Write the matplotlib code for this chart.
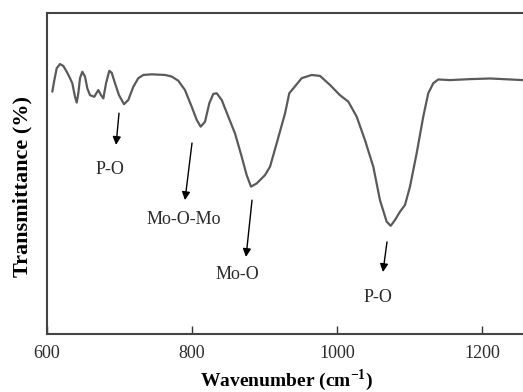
import matplotlib
matplotlib.use("Agg")
import matplotlib.pyplot as plt

plt.rcParams['font.family'] = ['Liberation Serif', 'DejaVu Serif']
plt.rcParams['mathtext.fontset'] = 'custom'
plt.rcParams['mathtext.rm'] = 'Liberation Serif'
plt.rcParams['mathtext.bf'] = 'Liberation Serif:bold'

# FT-IR spectrum
wavenumber = [607.3, 610.1, 613.4, 617.9, 622.5, 627.2, 631.7, 634.9, 638.6, 641.0,
              643.2, 645.5, 648.7, 652.4, 655.6, 659.3, 665.2, 668.6, 670.8, 674.5,
              677.7, 681.4, 685.9, 689.2, 693.8, 699.3, 706.2, 712.1, 719.0, 725.9,
              732.8, 744.4, 762.8, 772.0, 781.1, 790.3, 799.6, 806.5, 812.0, 817.9,
              823.9, 829.4, 834.1, 841.0, 850.1, 859.3, 868.6, 875.4, 881.4, 889.2,
              900.7, 907.6, 916.8, 928.3, 934.2, 939.7, 951.3, 965.1, 976.6, 990.3,
              1004.1, 1015.6, 1027.2, 1038.6, 1050.1, 1059.3, 1068.5, 1074.1, 1080.0,
              1086.9, 1093.8, 1100.7, 1109.9, 1119.0, 1125.9, 1132.8, 1139.7, 1155.9,
              1183.4, 1211.0, 1238.6, 1256.6]
transmittance = [75.5, 79.1, 82.8, 84.1, 83.5, 81.7, 79.7, 78.1, 73.9, 72.1,
                 75.0, 79.7, 81.7, 80.2, 76.5, 74.4, 73.9, 75.2, 76.0, 74.4,
                 73.4, 78.1, 82.0, 81.4, 78.1, 74.4, 71.6, 72.9, 77.0, 79.7,
                 80.7, 80.9, 80.7, 80.2, 78.9, 76.0, 70.8, 66.7, 64.6, 66.1,
                 71.9, 74.8, 75.0, 72.9, 67.7, 62.5, 55.2, 49.5, 45.9, 46.9,
                 49.5, 52.1, 59.4, 68.7, 75.0, 76.5, 79.7, 80.7, 80.4, 77.6,
                 74.4, 72.4, 67.7, 60.4, 52.1, 41.7, 35.0, 33.7, 35.5,
                 38.1, 40.2, 45.9, 56.3, 67.7, 75.0, 78.1, 79.3, 79.1,
                 79.4, 79.6, 79.3, 79.1]

# band labels: text, label position, arrow tail, arrow head
band_names = ['P-O', 'Mo-O-Mo', 'Mo-O', 'P-O']
label_xy = [(686.9, 51.1), (789.0, 35.8), (862.1, 18.4), (1056.6, 11.5)]
tail_xy = [(699.3, 68.8), (800.0, 59.5), (882.8, 41.7), (1069.0, 28.7)]
head_xy = [(695.2, 58.9), (790.3, 41.7), (874.5, 24.0), (1063.4, 19.3)]

xticks = [600, 800, 1000, 1200]

fig = plt.figure(figsize=(5.23, 3.92), dpi=100)
ax = fig.add_axes([0.0899, 0.148, 0.9101, 0.8188])

ax.plot(wavenumber, transmittance, color='#5a5a5a', lw=1.6,
        solid_joinstyle='round', solid_capstyle='round')

for name, lxy, txy, hxy in zip(band_names, label_xy, tail_xy, head_xy):
    ax.annotate('', xy=hxy, xytext=txy,
                arrowprops=dict(arrowstyle='-|>', color='black', lw=1.0,
                                mutation_scale=12, shrinkA=0, shrinkB=0))
    ax.text(lxy[0], lxy[1], name, ha='center', va='center', fontsize=13, color='#2b2b2b')

ax.set_xlim(600, 1256.6)
ax.set_ylim(0, 100)
ax.set_xticks(xticks)
ax.set_yticks([])
ax.tick_params(axis='x', direction='in', length=6, width=1, pad=8,
               labelsize=13, labelcolor='#2b2b2b', color='#333333')

for side in ['left', 'bottom', 'top']:
    ax.spines[side].set_color('#444444')
    ax.spines[side].set_linewidth(1.5)
ax.spines['right'].set_visible(False)

ax.set_xlabel('Wavenumber (cm$^{\\mathbf{-1}}$)', fontsize=14, fontweight='bold', va='center')
ax.set_ylabel('Transmittance (%)', fontsize=16, fontweight='bold')
ax.xaxis.set_label_coords(0.504, -0.143)
ax.yaxis.set_label_coords(-0.03, 0.461)

fig.savefig('out.png', dpi=100)
